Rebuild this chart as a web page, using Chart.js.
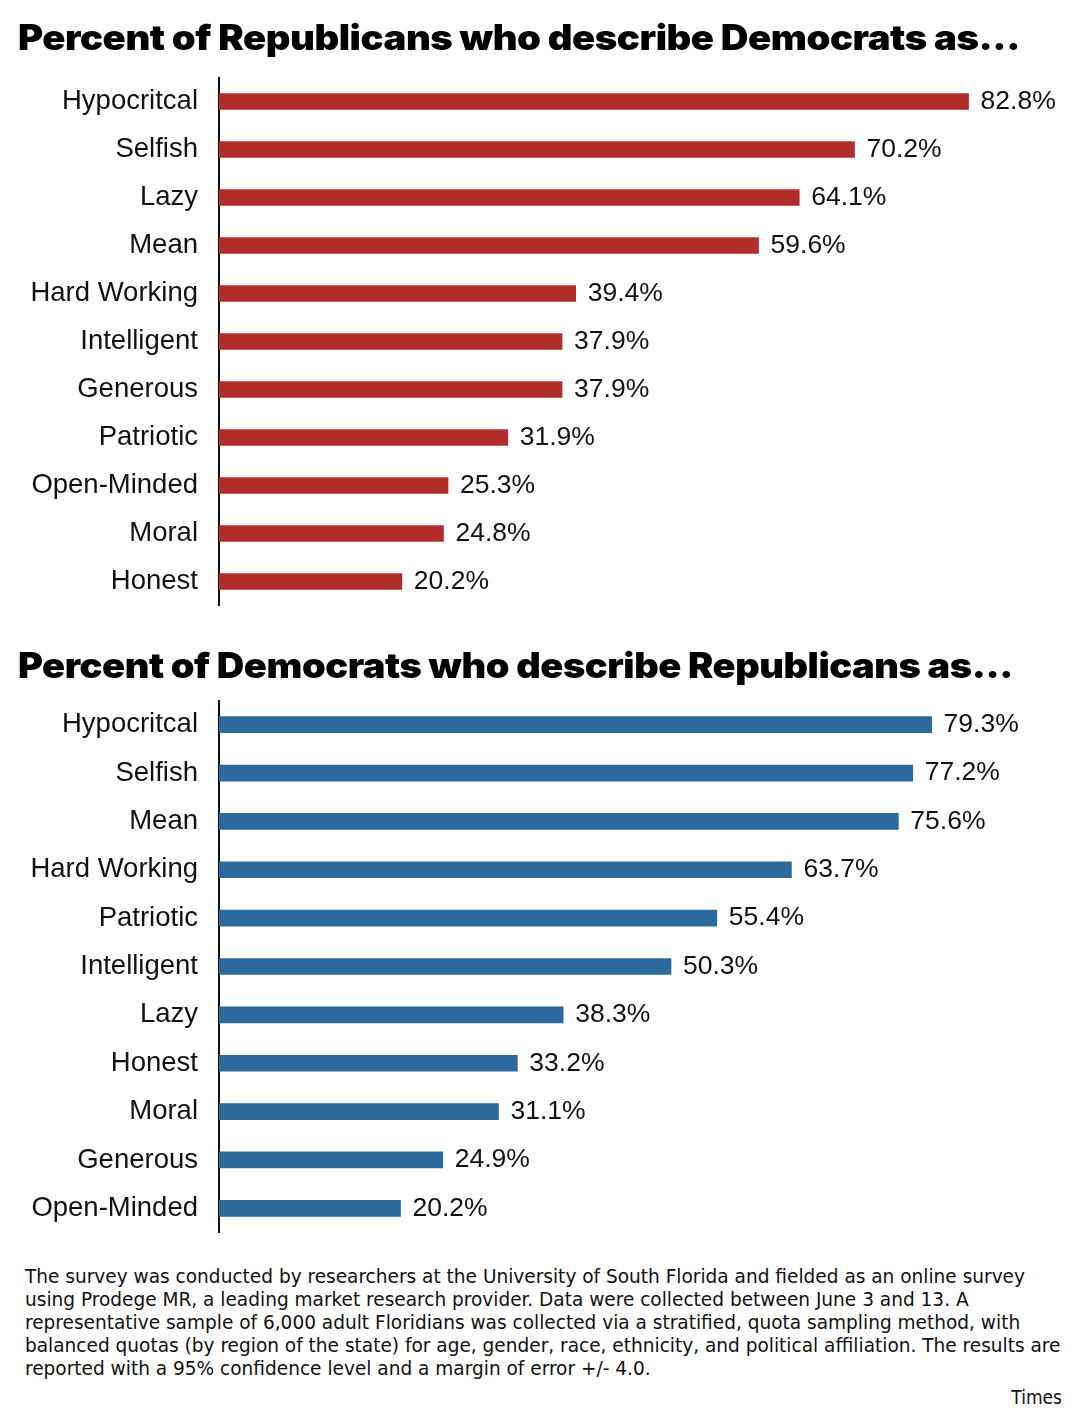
<!DOCTYPE html>
<html>
<head>
<meta charset="utf-8">
<script src="https://cdn.jsdelivr.net/npm/chart.js@4.4.1/dist/chart.umd.min.js"></script>
<style>
  body { margin: 0; background: #fff; width: 1080px; height: 1424px; position: relative; overflow: hidden; }
  .title { position: absolute; left: 18px; font-family: Inter, "Noto Sans", sans-serif; font-weight: 900;
           font-size: 35px; color: #000; white-space: nowrap; letter-spacing: -0.4px; line-height: 1;
           transform-origin: 0 0; }
  canvas { position: absolute; left: 0; }
  .note { position: absolute; left: 25px; top: 1265px; font-family: "Liberation Sans Narrow", "DejaVu Sans Condensed", sans-serif;
          font-size: 20px; line-height: 23px; color: #111; white-space: nowrap; transform-origin: 0 0; }
  .credit { position: absolute; right: 18px; top: 1386px; font-family: "DejaVu Sans Condensed", sans-serif; font-size: 19px; color: #111; }
</style>
</head>
<body>
<canvas id="repChart" width="1080" height="587" style="top:48px"></canvas>
<canvas id="demChart" width="1080" height="591" style="top:671px"></canvas>
<div class="title" id="t1" style="top:20px">Percent of Republicans who describe Democrats as...</div>
<div class="title" id="t2" style="top:648px">Percent of Democrats who describe Republicans as...</div>
<div class="note" id="note"><span id="line1">The survey was conducted by researchers at the University of South Florida and fielded as an online survey</span><br>using Prodege MR, a leading market research provider. Data were collected between June 3 and 13. A<br>representative sample of 6,000 adult Floridians was collected via a stratified, quota sampling method, with<br>balanced quotas (by region of the state) for age, gender, race, ethnicity, and political affiliation. The results are<br>reported with a 95% confidence level and a margin of error +/- 4.0.</div>
<div class="credit">Times</div>
<script>
// Republicans describing Democrats
const repLabels = ['Hypocritcal', 'Selfish', 'Lazy', 'Mean', 'Hard Working', 'Intelligent', 'Generous', 'Patriotic', 'Open-Minded', 'Moral', 'Honest'];
const repValues = [82.8, 70.2, 64.1, 59.6, 39.4, 37.9, 37.9, 31.9, 25.3, 24.8, 20.2];

// Democrats describing Republicans
const demLabels = ['Hypocritcal', 'Selfish', 'Mean', 'Hard Working', 'Patriotic', 'Intelligent', 'Lazy', 'Honest', 'Moral', 'Generous', 'Open-Minded'];
const demValues = [79.3, 77.2, 75.6, 63.7, 55.4, 50.3, 38.3, 33.2, 31.1, 24.9, 20.2];

// stretch the headline and the note to the widths they take in print
function fitWidth(el, measure, target) {
    const w = measure.getBoundingClientRect().width;
    el.style.transform = 'scaleX(' + (target / w) + ')';
}
fitWidth(document.getElementById('t1'), document.getElementById('t1'), 1002);
fitWidth(document.getElementById('t2'), document.getElementById('t2'), 995);
fitWidth(document.getElementById('note'), document.getElementById('line1'), 1000);

// writes the value after each bar
const valueLabels = {
    id: 'valueLabels',
    afterDatasetsDraw(chart) {
        const ctx = chart.ctx;
        const meta = chart.getDatasetMeta(0);
        ctx.save();
        ctx.font = '26.5px "Liberation Sans", Arial, sans-serif';
        ctx.fillStyle = '#111';
        ctx.textAlign = 'left';
        ctx.textBaseline = 'middle';
        meta.data.forEach(function (bar, i) {
            const v = chart.data.datasets[0].data[i];
            ctx.fillText(v.toFixed(1) + '%', bar.x + 12, bar.y);
        });
        ctx.restore();
    }
};

function makeChart(id, labels, values, color, xMax) {
    return new Chart(document.getElementById(id), {
        type: 'bar',
        data: {
            labels: labels,
            datasets: [{
                data: values,
                backgroundColor: color,
                barThickness: 16
            }]
        },
        options: {
            indexAxis: 'y',
            responsive: false,
            animation: false,
            devicePixelRatio: 1,
            layout: { padding: { top: 6, bottom: 6, left: 0, right: 1 } },
            plugins: { legend: { display: false }, tooltip: { enabled: false } },
            scales: {
                x: { display: false, min: 0, max: xMax },
                y: {
                    grid: { display: false },
                    border: { display: true, color: '#111', width: 2 },
                    ticks: { color: '#111', padding: 13, font: { family: '"Liberation Sans", Arial, sans-serif', size: 27.5 } },
                    afterFit: function (scale) { scale.width = 219; }
                }
            }
        },
        plugins: [valueLabels]
    });
}

makeChart('repChart', repLabels, repValues, '#b22d29', 95);
makeChart('demChart', demLabels, demValues, '#2c6a9e', 95.7);
</script>
</body>
</html>
